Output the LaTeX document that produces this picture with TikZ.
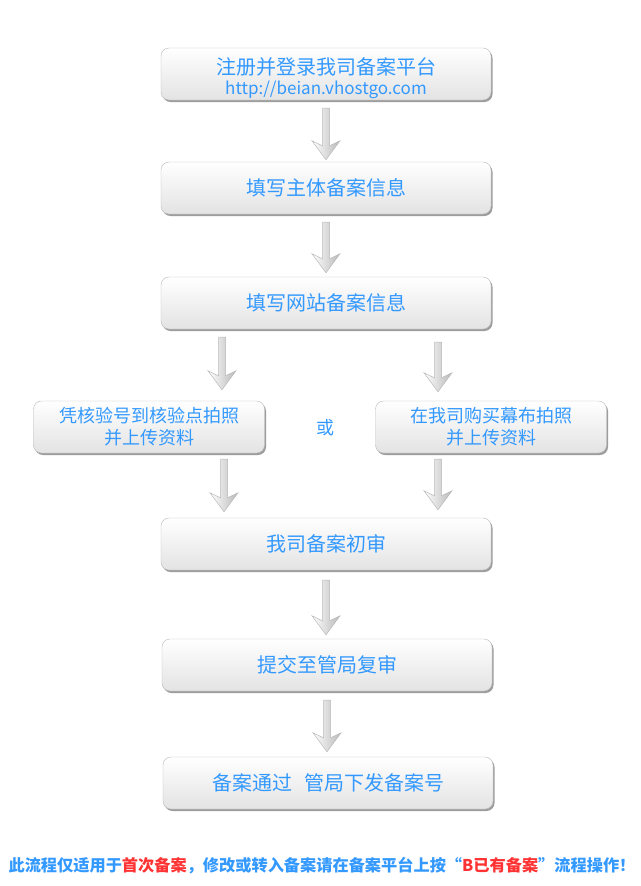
\documentclass[tikz,border=0pt]{standalone}
\usepackage{fontspec}
\setmainfont{Noto Sans CJK SC}
\usepackage{tikz}
\usetikzlibrary{calc,shadows}
\definecolor{stepblue}{HTML}{3399FF}
\definecolor{notered}{HTML}{FF3333}
\tikzset{
  stepbox/.style  = {draw=gray!55,rounded corners=8pt,top color=white,bottom color=gray!22,
                     minimum width=330pt,minimum height=52pt,align=center,text=stepblue,
                     drop shadow={shadow xshift=1.5pt,shadow yshift=-2pt,opacity=.55,fill=black!70},
                     font=\fontsize{20}{24}\selectfont},
  sidebox/.style  = {stepbox,minimum width=231pt,font=\fontsize{18}{22}\selectfont},
  arrfill/.style  = {draw=gray!55,line width=.5pt,left color=white,right color=gray!55}
}
% hollow flow arrow: x and top from #1, tip height from #2
\newcommand{\flowarr}[2]{%
  \path[arrfill] let \p1=#1, \p2=#2 in
    (\x1-3.5pt,\y1) -- (\x1+3.5pt,\y1) -- (\x1+3.5pt,\y2+14pt) -- (\x1+14pt,\y2+19pt)
    -- (\x1,\y2) -- (\x1-14pt,\y2+19pt) -- (\x1-3.5pt,\y2+14pt) -- cycle;
}

\begin{document}
\begin{tikzpicture}[x=1pt,y=-1pt]
  \useasboundingbox (0,0) rectangle (640,886);
  \node[stepbox,inner ysep=0pt] (reg) at (326,74)
    {\rule{0pt}{26pt}注册并登录我司备案平台\\[-4pt]{\fontsize{17}{19}\selectfont http://beian.vhostgo.com}};
  \node[stepbox] (main) at (326,188) {填写主体备案信息};
  \node[stepbox] (site) at (326,303) {填写网站备案信息};
  \node[sidebox] (lphoto) at (149,427) {凭核验号到核验点拍照\\并上传资料};
  \node[sidebox] (rphoto) at (491,427) {在我司购买幕布拍照\\并上传资料};
  \node[text=stepblue,font=\fontsize{18}{22}\selectfont] (orword) at (325,428) {或};
  \node[stepbox] (first) at (326,544) {我司备案初审};
  \node[stepbox] (submit) at (327,665) {提交至管局复审};
  \node[stepbox] (done) at (328,783) {备案通过\hspace{0.6em}管局下发备案号};
  \node[font=\bfseries\fontsize{16.2}{20}\selectfont,text=stepblue,inner sep=0pt] (note) at (322,866)
    {此流程仅适用于\textcolor{notered}{首次备案}，修改或转入备案请在备案平台上按“\textcolor{notered}{B已有备案}”流程操作！};

  \flowarr{([yshift=-8pt]reg.south)}{([yshift=2pt]main.north)}
  \flowarr{([yshift=-8pt]main.south)}{([yshift=4pt]site.north)}
  \flowarr{([xshift=-104pt,yshift=-8pt]site.south)}{([yshift=11pt]lphoto.north)}
  \flowarr{([xshift=112pt,yshift=-13pt]site.south)}{([yshift=9pt]rphoto.north)}
  \flowarr{([xshift=75pt,yshift=-6pt]lphoto.south)}{([yshift=6pt]first.north)}
  \flowarr{([xshift=-53pt,yshift=-6pt]rphoto.south)}{([yshift=8pt]first.north)}
  \flowarr{([yshift=-10pt]first.south)}{([yshift=4pt]submit.north)}
  \flowarr{([yshift=-9pt]submit.south)}{([yshift=5pt]done.north)}
\end{tikzpicture}
\end{document}
